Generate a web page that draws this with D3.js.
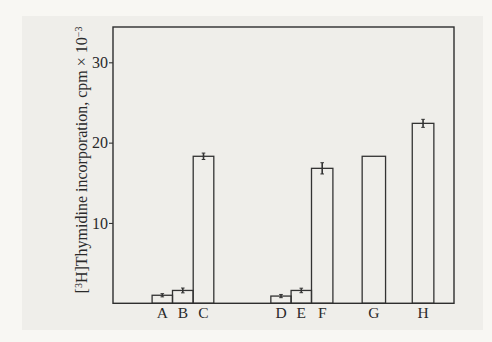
<!DOCTYPE html>
<html><head><meta charset="utf-8">
<script src="https://cdn.jsdelivr.net/npm/d3@7"></script>
<style>
html,body{margin:0;padding:0;background:#f8f7f3;}
svg{display:block;}
text{font-family:"Liberation Serif","DejaVu Serif",serif;fill:#2a2a2a;}
</style></head>
<body>
<script>
// Data
const categories = ["A","B","C","D","E","F","G","H"];
const values     = [1.0, 1.6, 18.3, 0.9, 1.6, 16.8, 18.3, 22.4];
const errors     = [0.2, 0.3, 0.4, 0.2, 0.28, 0.7, 0, 0.5];
const yTicks     = [10, 20, 30];
const yTickLabels = ["10","20","30"];

const W = 492, H = 342;
const svg = d3.select("body").append("svg").attr("width", W).attr("height", H);

// paper background
svg.append("rect").attr("x",22).attr("y",16).attr("width",461).attr("height",314).attr("fill","#efeeea");

const plot = {left:113, right:454, top:27, bottom:303.3};
const y = d3.scaleLinear().domain([0, 30]).range([plot.bottom, 62.3]);

// layout: slot positions along x (layout only)
const slot = {A:0, B:1, C:2.01, D:5.79, E:6.78, F:7.8, G:10.32, H:12.72};
const barW = {A:20.4, B:20.6, C:20.6, D:20.3, E:20.4, F:21.4, G:23.4, H:21.6};
const x = d3.scaleLinear().domain([0, 1]).range([162.3, 182.8]);

const ink = "#333";

// bars
const data = categories.map((c,i)=>({c, v:values[i], e:errors[i]}));
svg.append("g").selectAll("rect").data(data).join("rect")
  .attr("x", d => x(slot[d.c]) - barW[d.c]/2)
  .attr("y", d => y(d.v))
  .attr("width", d => barW[d.c])
  .attr("height", d => y(0) - y(d.v))
  .attr("fill","none").attr("stroke",ink).attr("stroke-width",1.3);

// error bars
const eg = svg.append("g").selectAll("g").data(data.filter(d=>d.e>0)).join("g");
eg.append("line")
  .attr("x1", d=>x(slot[d.c])).attr("x2", d=>x(slot[d.c]))
  .attr("y1", d=>y(d.v+d.e)).attr("y2", d=>y(d.v-d.e))
  .attr("stroke",ink).attr("stroke-width",1.6);
eg.selectAll("line.cap").data(d=>[{d, v:d.v+d.e},{d, v:d.v-d.e}]).join("line")
  .attr("class","cap")
  .attr("x1", o=>x(slot[o.d.c])-1.8).attr("x2", o=>x(slot[o.d.c])+1.8)
  .attr("y1", o=>y(o.v)).attr("y2", o=>y(o.v))
  .attr("stroke",ink).attr("stroke-width",1);

// frame
svg.append("rect")
  .attr("x",plot.left).attr("y",plot.top)
  .attr("width",plot.right-plot.left).attr("height",plot.bottom-plot.top)
  .attr("fill","none").attr("stroke","#2e2e2e").attr("stroke-width",1.4);

// y axis
const yAxis = d3.axisLeft(y).tickValues(yTicks).tickSize(4).tickPadding(1)
  .tickFormat((d,i)=>yTickLabels[i]);
const ga = svg.append("g").attr("transform",`translate(${plot.left},0)`).call(yAxis);
ga.select(".domain").remove();
ga.selectAll(".tick line").attr("stroke","#333").attr("stroke-width",1.1);
ga.selectAll(".tick text").attr("font-size",16).attr("fill","#2a2a2a")
  .attr("font-family","Liberation Serif, serif");

// category labels
svg.append("g").selectAll("text").data(data).join("text")
  .attr("x", d=>x(slot[d.c])).attr("y", 318)
  .attr("text-anchor","middle").attr("font-size",15.5)
  .text(d=>d.c);

// y label
const yl = svg.append("text")
  .attr("transform","translate(87,160) rotate(-90)")
  .attr("text-anchor","middle").attr("font-size",16);
yl.append("tspan").text("[");
yl.append("tspan").attr("baseline-shift","super").attr("font-size",10).text("3");
yl.append("tspan").text("H]Thymidine incorporation, cpm × 10");
yl.append("tspan").attr("baseline-shift","super").attr("font-size",10).text("−3");
</script>
</body></html>
